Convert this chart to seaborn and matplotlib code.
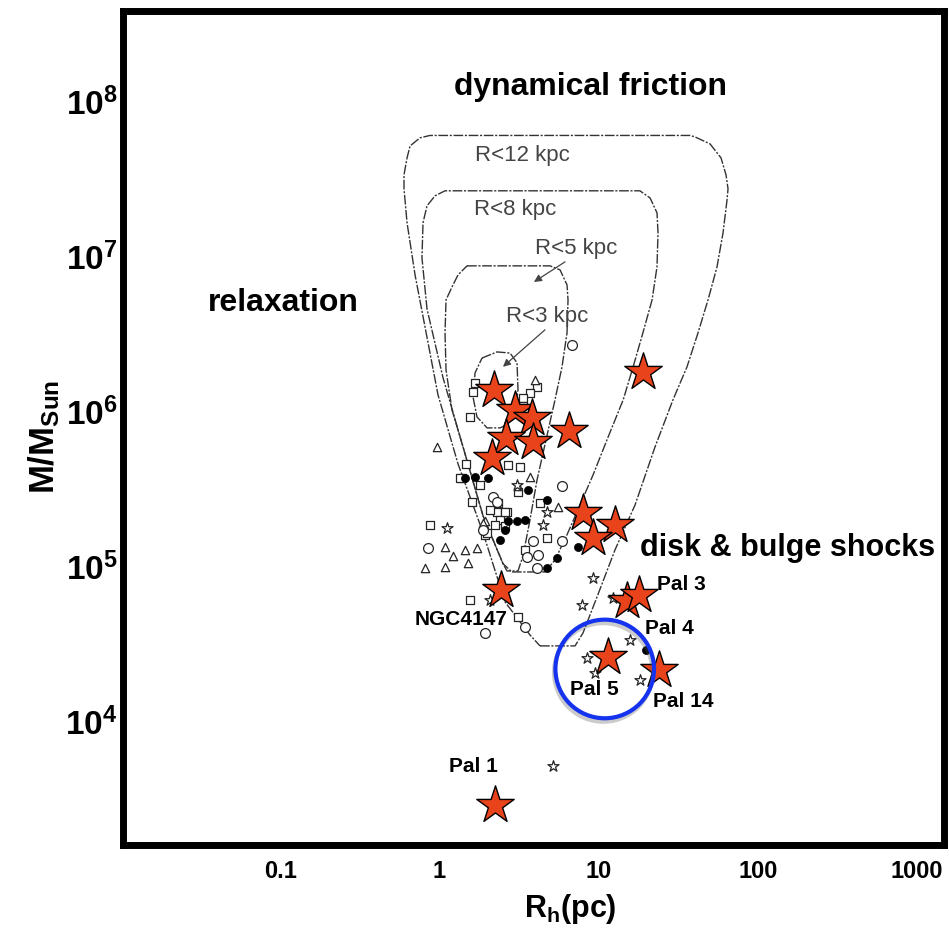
import numpy as np
import pandas as pd
import matplotlib
matplotlib.use("Agg")
import matplotlib.pyplot as plt
import matplotlib.patheffects as pe
from matplotlib.ticker import LogLocator, FixedLocator, FixedFormatter, FuncFormatter, NullFormatter
import seaborn as sns

# ---------------------------------------------------------------- data
# Highlighted globular clusters (large stars): half-mass radius [pc], mass [Msun]
star_name = ["", "", "", "", "", "", "", "", "", "", "",
             "NGC4147", "Pal 4", "Pal 3", "Pal 5", "Pal 14", "Pal 1"]
star_rh = [2.21, 2.99, 3.82, 6.53, 2.62, 3.88, 2.14, 19.0, 7.99, 12.7, 9.24,
           2.44, 15.1, 17.97, 11.5, 24.0, 2.24]
star_mass = [1.38e6, 1.02e6, 9.08e5, 7.5e5, 6.75e5, 6.35e5, 5.01e5, 1.80e6,
             2.21e5, 1.85e5, 1.53e5, 7.05e4, 5.99e4, 6.55e4, 2.61e4, 2.15e4, 2.89e3]

# Galactic globular cluster sample, grouped by plotting symbol
sq_rh = [1.68, 1.63, 4.09, 3.71, 3.36, 1.56, 2.70, 3.21, 1.38, 1.60, 3.12, 4.29,
         2.29, 2.65, 2.41, 2.59, 0.874, 1.94, 4.73, 3.45, 1.56, 3.12, 2.34,
         3.36, 3.55, 1.35, 2.59, 1.985, 1.80, 2.08, 2.24, 1.47]
sq_mass = [1.53e6, 1.34e6, 1.44e6, 1.32e6, 1.22e6, 9.25e5, 4.52e5, 4.41e5, 3.73e5,
           2.62e5, 3.04e5, 2.57e5, 2.26e5, 2.26e5, 2.00e5, 1.81e5, 1.85e5, 1.60e5,
           1.53e5, 1.28e5, 6.08e4, 4.75e4, 2.57e5,
           1.08e6, 9.78e5, 3.73e5, 2.23e5, 1.65e5, 3.36e5, 2.31e5, 1.85e5, 4.60e5]
tri_rh = [3.99, 0.963, 3.71, 5.57, 1.94, 1.09, 1.22, 1.45, 1.72, 1.51, 0.813, 1.09,
          3.12, 1.88]
tri_mass = [1.60e6, 5.90e5, 3.80e5, 2.43e5, 1.95e5, 1.34e5, 1.16e5, 1.28e5, 1.32e5,
            1.05e5, 9.78e4, 9.98e4, 3.30e5, 1.91e5]
circ_rh = [6.79, 5.87, 2.18, 1.88, 0.849, 3.88, 4.17, 5.87, 4.09, 3.45, 1.94, 3.56, 2.29]
circ_mass = [2.69e6, 3.28e5, 2.82e5, 1.72e5, 1.32e5, 1.45e5, 1.19e5, 1.45e5, 9.78e4,
             4.09e4, 3.72e4, 1.15e5, 2.62e5]
dot_rh = [1.68, 2.02, 3.61, 4.73, 3.06, 3.45, 5.46, 7.43, 4.73, 2.70, 1.45, 19.9,
          2.59, 2.41]
dot_mass = [3.80e5, 3.73e5, 3.12e5, 2.69e5, 1.95e5, 2.00e5, 1.13e5, 1.34e5, 9.78e4,
            1.97e5, 3.73e5, 2.89e4, 1.72e5, 1.48e5]
smallstar_rh = [4.73, 4.48, 1.11, 3.06, 9.28, 7.85, 12.4, 15.8, 8.43, 9.51, 18.2, 5.20, 2.08]
smallstar_mass = [2.26e5, 1.85e5, 1.77e5, 3.36e5, 8.39e4, 5.65e4, 6.24e4, 3.36e4,
                  2.56e4, 2.05e4, 1.85e4, 5.19e3, 6.08e4]

# Survival-triangle boundaries for clusters within a given galactocentric radius
r12_rh = [4.29, 7.12, 7.99, 9.79, 12.7, 16.96, 22.64, 29.38, 35.97, 42.17, 48.74,
          55.51, 60.55, 64.15, 65.09, 63.23, 58.83, 50.17, 40.37, 37.56, 0.874,
          0.756, 0.655, 0.627, 0.600, 0.600, 0.627, 0.704, 0.813, 0.981, 1.311,
          1.882, 2.587, 3.713, 4.29]
r12_mass = [3.07e4, 3.07e4, 3.72e4, 6.36e4, 1.28e5, 2.49e5, 5.90e5, 1.19e6, 1.94e6,
            3.21e6, 5.24e6, 8.56e6, 1.42e7, 2.31e7, 2.73e7, 3.36e7, 4.32e7, 5.32e7,
            5.90e7, 6.03e7, 6.03e7, 5.82e7, 5.16e7, 4.32e7, 3.36e7, 2.73e7, 1.65e7,
            7.60e6, 3.51e6, 1.28e6, 4.58e5, 1.65e5, 5.90e4, 3.61e4, 3.07e4]
r8_rh = [2.86, 4.61, 5.33, 6.34, 7.65, 9.24, 11.3, 14.3, 16.5, 19.0, 21.7, 23.3,
         23.65, 23.3, 21.1, 18.2, 1.086, 0.94, 0.837, 0.79, 0.778, 0.837, 1.055,
         1.409, 1.882, 2.513, 2.86]
r8_mass = [9.21e4, 9.21e4, 1.10e5, 1.60e5, 2.49e5, 3.89e5, 6.55e5, 1.19e6, 1.94e6,
           3.21e6, 5.24e6, 8.56e6, 1.42e7, 1.91e7, 2.38e7, 2.65e7, 2.65e7, 2.46e7,
           2.12e7, 1.65e7, 9.78e6, 4.58e6, 1.65e6, 5.90e5, 2.12e5, 1.04e5, 9.21e4]
r5_rh = [1.493, 4.958, 5.731, 6.341, 6.434, 6.341, 5.899, 5.332, 4.68, 4.109, 3.713,
         3.356, 3.121, 2.663, 2.513, 1.882, 1.409, 1.202, 1.102, 1.086, 1.102,
         1.202, 1.311, 1.493]
r5_mass = [8.69e6, 8.69e6, 8.19e6, 6.55e6, 5.24e6, 3.21e6, 1.94e6, 1.19e6, 6.55e5,
           3.61e5, 2.00e5, 1.17e5, 9.35e4, 9.35e4, 1.04e5, 2.12e5, 5.90e5, 1.02e6,
           1.85e6, 3.21e6, 5.24e6, 6.36e6, 7.60e6, 8.69e6]
r3_rh = [1.854, 2.304, 2.781, 3.077, 3.121, 2.989, 2.663, 2.406, 1.994, 1.725,
         1.628, 1.676, 1.854]
r3_mass = [2.21e6, 2.42e6, 2.38e6, 2.06e6, 1.38e6, 9.78e5, 8.19e5, 7.83e5, 7.83e5,
           9.21e5, 1.24e6, 1.77e6, 2.21e6]

contour_labels = ["R<12 kpc", "R<8 kpc", "R<5 kpc", "R<3 kpc"]
contour_label_rh = [3.31, 2.99, 7.22, 4.75]
contour_label_mass = [4.45e7, 2.0e7, 1.12e7, 4.07e6]

x_ticks = [0.1, 1, 10, 100, 1000]
x_tick_labels = ["0.1", "1", "10", "100", "1000"]
y_ticks = [1e4, 1e5, 1e6, 1e7, 1e8]

# Circled neighbourhood of Pal 5
focus_rh, focus_mass = 10.94, 2.18e4

# ---------------------------------------------------------------- style
sns.set_style("white")
plt.rcParams["font.family"] = ["Liberation Sans", "DejaVu Sans"]
plt.rcParams["font.weight"] = "bold"
plt.rcParams["mathtext.fontset"] = "custom"
plt.rcParams["mathtext.bf"] = "Liberation Sans:bold"
plt.rcParams["mathtext.rm"] = "Liberation Sans"
for key in ("text.color", "axes.labelcolor", "xtick.color", "ytick.color"):
    plt.rcParams[key] = "black"

fig = plt.figure(figsize=(9.49, 9.35), dpi=100)
ax = fig.add_axes([0.1296, 0.0963, 0.8651, 0.8919])
ax.set_xscale("log")
ax.set_yscale("log")
ax.set_xlim(10 ** -1.987, 10 ** 3.17)
ax.set_ylim(10 ** 3.203, 10 ** 8.583)

# survival triangles
line_kw = dict(color="#333333", lw=1.0, ls=(0, (7, 1.2, 1.5, 1.2)), zorder=2)
for rh, m in [(r12_rh, r12_mass), (r8_rh, r8_mass), (r5_rh, r5_mass), (r3_rh, r3_mass)]:
    ax.plot(rh, m, **line_kw)

for lab, x, y in zip(contour_labels, contour_label_rh, contour_label_mass):
    ax.text(x, y, lab, ha="center", va="center", fontsize=16, fontweight="normal",
            color="#444444", zorder=3)
arrow_kw = dict(arrowstyle="-|>", color="#444444", lw=0.9, mutation_scale=11,
                shrinkA=0, shrinkB=0)
ax.annotate("", xy=(3.93, 6.84e6), xytext=(6.16, 9.22e6), arrowprops=arrow_kw, zorder=3)
ax.annotate("", xy=(2.51, 1.94e6), xytext=(4.61, 3.36e6), arrowprops=arrow_kw, zorder=3)

# comparison sample
open_kw = dict(color="white", edgecolor="#252525", linewidth=0.9, legend=False, ax=ax, zorder=3)
sns.scatterplot(x=sq_rh, y=sq_mass, marker="s", s=26, **open_kw)
sns.scatterplot(x=tri_rh, y=tri_mass, marker="^", s=36, **open_kw)
sns.scatterplot(x=circ_rh, y=circ_mass, marker="o", s=50, **open_kw)
sns.scatterplot(x=smallstar_rh, y=smallstar_mass, marker="*", s=70, **open_kw)
sns.scatterplot(x=dot_rh, y=dot_mass, marker="o", s=34, color="black",
                edgecolor="black", linewidth=0.5, legend=False, ax=ax, zorder=3)

# highlighted clusters
stars = pd.DataFrame({"rh": star_rh, "mass": star_mass, "name": star_name})
sns.scatterplot(data=stars, x="rh", y="mass", marker="*", s=800, color="#E8431B",
                edgecolor="black", linewidth=1.0, legend=False, ax=ax, zorder=5)

label_offsets = {"NGC4147": (-28.8, -21.6), "Pal 4": (30.2, -20.2), "Pal 3": (30.2, 7.2),
                 "Pal 5": (-10.0, -23.8), "Pal 14": (17.3, -23.0), "Pal 1": (-15.8, 27.4)}
for _, row in stars[stars["name"] != ""].iterrows():
    ax.annotate(row["name"], (row["rh"], row["mass"]), xytext=label_offsets[row["name"]],
                textcoords="offset points", ha="center", va="center", fontsize=15,
                fontweight="bold", color="black", zorder=7)

# circle around Pal 5
ax.plot([focus_rh], [focus_mass], marker="o", ms=71, mfc="none", mec="#1533ee", mew=3.0,
        zorder=6, path_effects=[pe.SimpleLineShadow(offset=(-1, -2.5), shadow_color="#555555",
                                                    alpha=0.3), pe.Normal()])

# disruption-process labels
region_kw = dict(transform=ax.transAxes, ha="center", va="center",
                 fontweight="bold", color="black", zorder=7)
ax.text(0.569, 0.909, "dynamical friction", fontsize=23, **region_kw)
ax.text(0.195, 0.650, "relaxation", fontsize=23, **region_kw)
ax.text(0.809, 0.356, "disk & bulge shocks", fontsize=22, **region_kw)

# axes
ax.xaxis.set_major_locator(FixedLocator(x_ticks))
ax.xaxis.set_major_formatter(FixedFormatter(x_tick_labels))
ax.yaxis.set_major_locator(FixedLocator(y_ticks))
ax.yaxis.set_major_formatter(FuncFormatter(lambda v, p: r"$\mathbf{10^{%d}}$" % round(np.log10(v))))
for axis in (ax.xaxis, ax.yaxis):
    axis.set_minor_locator(LogLocator(base=10, subs=np.arange(2, 10) * 1.0, numticks=30))
    axis.set_minor_formatter(NullFormatter())
ax.tick_params(which="both", direction="in", top=False, right=False, color="black")
ax.tick_params(which="major", length=10, width=1.8)
ax.tick_params(which="minor", length=5, width=1.0)
ax.tick_params(axis="x", which="major", labelsize=17, pad=11)
ax.tick_params(axis="y", which="major", labelsize=24, pad=4)
for s in ax.spines.values():
    s.set_linewidth(5)
    s.set_color("black")
    s.set_visible(True)

ax.set_xlabel(r"$\mathbf{R_h(pc)}$", fontsize=22)
ax.xaxis.set_label_coords(0.545, -0.057)
ax.set_ylabel(r"$\mathbf{M/M_{Sun}}$", fontsize=25)
ax.yaxis.set_label_coords(-0.074, 0.489)

fig.savefig("out.png", dpi=100, facecolor="white")
